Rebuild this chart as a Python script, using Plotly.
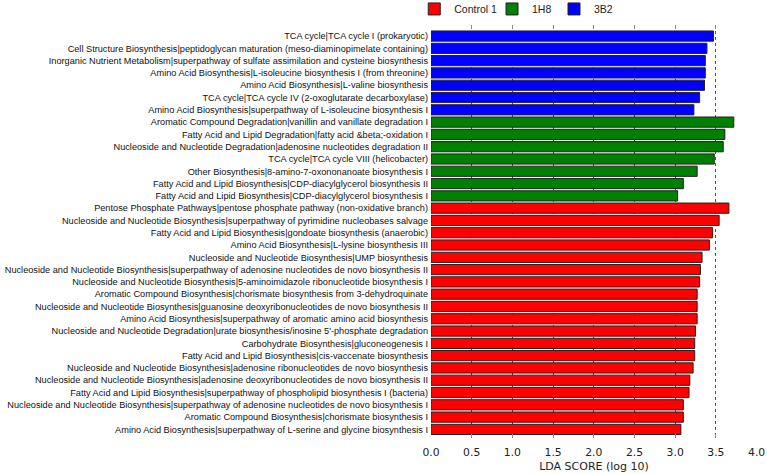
import plotly.graph_objects as go

# pathways listed top to bottom, as in the figure
pathways = [
    "TCA cycle|TCA cycle I (prokaryotic)",
    "Cell Structure Biosynthesis|peptidoglycan maturation (meso-diaminopimelate containing)",
    "Inorganic Nutrient Metabolism|superpathway of sulfate assimilation and cysteine biosynthesis",
    "Amino Acid Biosynthesis|L-isoleucine biosynthesis I (from threonine)",
    "Amino Acid Biosynthesis|L-valine biosynthesis",
    "TCA cycle|TCA cycle IV (2-oxoglutarate decarboxylase)",
    "Amino Acid Biosynthesis|superpathway of L-isoleucine biosynthesis I",
    "Aromatic Compound Degradation|vanillin and vanillate degradation I",
    "Fatty Acid and Lipid Degradation|fatty acid &beta;-oxidation I",
    "Nucleoside and Nucleotide Degradation|adenosine nucleotides degradation II",
    "TCA cycle|TCA cycle VIII (helicobacter)",
    "Other Biosynthesis|8-amino-7-oxononanoate biosynthesis I",
    "Fatty Acid and Lipid Biosynthesis|CDP-diacylglycerol biosynthesis II",
    "Fatty Acid and Lipid Biosynthesis|CDP-diacylglycerol biosynthesis I",
    "Pentose Phosphate Pathways|pentose phosphate pathway (non-oxidative branch)",
    "Nucleoside and Nucleotide Biosynthesis|superpathway of pyrimidine nucleobases salvage",
    "Fatty Acid and Lipid Biosynthesis|gondoate biosynthesis (anaerobic)",
    "Amino Acid Biosynthesis|L-lysine biosynthesis III",
    "Nucleoside and Nucleotide Biosynthesis|UMP biosynthesis",
    "Nucleoside and Nucleotide Biosynthesis|superpathway of adenosine nucleotides de novo biosynthesis II",
    "Nucleoside and Nucleotide Biosynthesis|5-aminoimidazole ribonucleotide biosynthesis I",
    "Aromatic Compound Biosynthesis|chorismate biosynthesis from 3-dehydroquinate",
    "Nucleoside and Nucleotide Biosynthesis|guanosine deoxyribonucleotides de novo biosynthesis II",
    "Amino Acid Biosynthesis|superpathway of aromatic amino acid biosynthesis",
    "Nucleoside and Nucleotide Degradation|urate biosynthesis/inosine 5'-phosphate degradation",
    "Carbohydrate Biosynthesis|gluconeogenesis I",
    "Fatty Acid and Lipid Biosynthesis|cis-vaccenate biosynthesis",
    "Nucleoside and Nucleotide Biosynthesis|adenosine ribonucleotides de novo biosynthesis",
    "Nucleoside and Nucleotide Biosynthesis|adenosine deoxyribonucleotides de novo biosynthesis II",
    "Fatty Acid and Lipid Biosynthesis|superpathway of phospholipid biosynthesis I (bacteria)",
    "Nucleoside and Nucleotide Biosynthesis|superpathway of adenosine nucleotides de novo biosynthesis I",
    "Aromatic Compound Biosynthesis|chorismate biosynthesis I",
    "Amino Acid Biosynthesis|superpathway of L-serine and glycine biosynthesis I",
]

lda = [3.47, 3.39, 3.37, 3.37, 3.36, 3.30, 3.23,
       3.72, 3.61, 3.59, 3.48, 3.27, 3.10, 3.03,
       3.66, 3.54, 3.46, 3.42, 3.33, 3.31, 3.30, 3.27, 3.27, 3.27,
       3.25, 3.24, 3.24, 3.22, 3.18, 3.17, 3.10, 3.10, 3.07]

groups = ["3B2"] * 7 + ["1H8"] * 7 + ["Control 1"] * 19

group_order = ["Control 1", "1H8", "3B2"]
group_colors = {"Control 1": "#ff0000", "1H8": "#008000", "3B2": "#0000ff"}

x_ticks = [0.0, 0.5, 1.0, 1.5, 2.0, 2.5, 3.0, 3.5, 4.0]

# one small legend per group so each entry sits where the reference puts it
legend_ids = ["legend", "legend2", "legend3"]
legend_x = [0.5401, 0.6415, 0.7223]

fig = go.Figure()
for g, lid in zip(group_order, legend_ids):
    ys = [p for p, gg in zip(pathways, groups) if gg == g]
    xs = [v for v, gg in zip(lda, groups) if gg == g]
    fig.add_trace(go.Bar(
        x=xs, y=ys, name=g, orientation="h", legend=lid,
        marker=dict(color=group_colors[g], line=dict(color="#222222", width=1)),
    ))

legend_style = dict(orientation="h", xref="container", yref="paper",
                    y=1.074, xanchor="left", yanchor="top",
                    bgcolor="rgba(0,0,0,0)",
                    font=dict(family="Liberation Sans", size=10.5, color="#222222"),
                    itemwidth=30)

fig.update_layout(
    width=767, height=474,
    margin=dict(l=431, r=10, t=25, b=36, autoexpand=False),
    paper_bgcolor="white", plot_bgcolor="white",
    barmode="overlay", bargap=0.17,
    showlegend=True,
    legend=dict(x=legend_x[0], **legend_style),
    legend2=dict(x=legend_x[1], **legend_style),
    legend3=dict(x=legend_x[2], **legend_style),
    font=dict(family="Liberation Sans", color="#111111"),
)
fig.update_xaxes(
    range=[0, 4.005], tickvals=x_ticks, ticktext=[f"{t:.1f}" for t in x_ticks],
    showgrid=True, gridcolor="#555555", griddash="dot", gridwidth=1,
    zeroline=False, showline=False, ticks="inside", ticklen=4, tickcolor="#888888",
    mirror="ticks", automargin=False, ticklabelstandoff=6,
    tickfont=dict(family="DejaVu Sans", size=10.8, color="#222222"),
    title=dict(text="LDA SCORE (log 10)", font=dict(family="DejaVu Sans", size=11, color="#222222"), standoff=4),
)
fig.update_yaxes(
    type="category", categoryorder="array", categoryarray=pathways,
    range=[32.7, -0.9], showgrid=False, zeroline=False, showline=False,
    ticks="", ticklabelstandoff=2,
    tickfont=dict(family="Liberation Sans", size=9.2, color="#111111"),
    automargin=False,
)

fig.write_html("out.html", config={"displayModeBar": False},
               post_script="document.body.style.margin='0';")
